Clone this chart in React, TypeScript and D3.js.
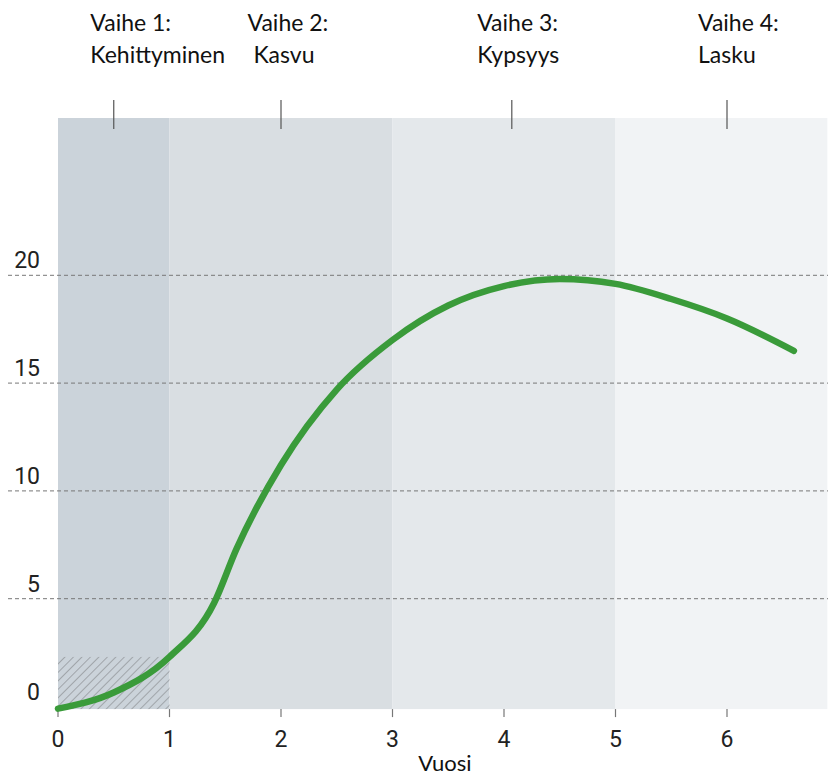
import React from "react";
import * as d3 from "d3";

const W = 828;
const H = 775;

// Curve data (years, value)
const curveX = [0, 0.5, 1, 1.4, 1.6, 2, 2.5, 3, 3.5, 4, 4.5, 5, 5.5, 6, 6.6];
const curveY = [-0.1, 0.65, 2.3, 4.8, 7.3, 11.2, 14.7, 17.0, 18.6, 19.5, 19.83, 19.6, 18.9, 18.0, 16.5];

// Phase bands (year ranges)
const bandStart = [0, 1, 3, 5];
const bandEnd = [1, 3, 5, 6.9];
const bandColors = ["#cbd3da", "#d9dee2", "#e4e8eb", "#f1f3f5"];

// Phase labels
const phaseTitles = ["Vaihe 1:", "Vaihe 2:", "Vaihe 3:", "Vaihe 4:"];
const phaseNames = ["Kehittyminen", " Kasvu", "Kypsyys", "Lasku"];
const phaseTickX = [0.5, 2, 4.07, 6];
const phaseLabelX = [0.29, 1.7, 3.76, 5.74];

// Hatched area (development cost region)
const hatchX = [0, 1];
const hatchTop = 2.3;

const xTicks = [0, 1, 2, 3, 4, 5, 6];
const yTicks = [0, 5, 10, 15, 20];
const xTitle = "Vuosi";

export default function App() {
  const x = d3.scaleLinear().domain([0, 6]).range([58, 727]);
  const y = d3.scaleLinear().domain([0, 20]).range([706.5, 275.3]);
  const bandTop = 118;
  const bandBottom = y(-0.12);

  const line = d3
    .line<number>()
    .x((_, i) => x(curveX[i]))
    .y((d) => y(d))
    .curve(d3.curveMonotoneX);

  const labelFont = "Lato, 'Open Sans', sans-serif";
  const numFont = "Roboto, 'Liberation Sans', sans-serif";

  return (
    <svg
      width={W}
      height={H}
      style={{ position: "absolute", left: 0, top: 0, background: "#fff" }}
    >
      <defs>
        <pattern id="hatch" patternUnits="userSpaceOnUse" width={6} height={6} patternTransform="rotate(45)">
          <line x1={0} y1={0} x2={0} y2={6} stroke="#a0a5aa" strokeWidth={2} />
        </pattern>
      </defs>

      {bandStart.map((b, i) => (
        <rect
          key={"band" + i}
          x={x(b)}
          y={bandTop}
          width={x(bandEnd[i]) - x(b)}
          height={bandBottom - bandTop}
          fill={bandColors[i]}
        />
      ))}

      <rect
        x={x(hatchX[0])}
        y={y(hatchTop)}
        width={x(hatchX[1]) - x(hatchX[0])}
        height={bandBottom - y(hatchTop)}
        fill="url(#hatch)"
      />

      {yTicks
        .filter((t) => t > 0)
        .map((t) => (
          <line
            key={"g" + t}
            x1={8}
            x2={W}
            y1={y(t)}
            y2={y(t)}
            stroke="#777"
            strokeWidth={1}
            strokeDasharray="4,3"
          />
        ))}

      {yTicks.map((t) => (
        <text
          key={"yl" + t}
          x={40}
          y={y(t) - 7}
          textAnchor="end"
          fontFamily={numFont}
          fontSize={23}
          fill="#222"
        >
          {t}
        </text>
      ))}

      {xTicks.map((t) => (
        <g key={"xt" + t}>
          <line x1={x(t)} x2={x(t)} y1={bandBottom} y2={bandBottom + 8} stroke="#777" strokeWidth={1.2} />
          <text
            x={x(t)}
            y={747}
            textAnchor="middle"
            fontFamily={numFont}
            fontSize={23}
            fill="#222"
          >
            {t}
          </text>
        </g>
      ))}

      <text x={445} y={771} textAnchor="middle" fontFamily={labelFont} fontSize={22} fill="#111">
        {xTitle}
      </text>

      {phaseTitles.map((p, i) => (
        <g key={"ph" + i}>
          <line
            x1={x(phaseTickX[i])}
            x2={x(phaseTickX[i])}
            y1={100}
            y2={129}
            stroke="#555"
            strokeWidth={1.2}
          />
          <text
            x={x(phaseLabelX[i])}
            y={31}
            fontFamily={labelFont}
            fontSize={23}
            fill="#111"
            style={{ whiteSpace: "pre" }}
          >
            {p}
          </text>
          <text
            x={x(phaseLabelX[i])}
            y={63}
            fontFamily={labelFont}
            fontSize={23}
            fill="#111"
            style={{ whiteSpace: "pre" }}
          >
            {phaseNames[i]}
          </text>
        </g>
      ))}

      <path
        d={line(curveY) || ""}
        fill="none"
        stroke="#3a9b3a"
        strokeWidth={6.5}
        strokeLinecap="round"
        strokeLinejoin="round"
      />
    </svg>
  );
}
